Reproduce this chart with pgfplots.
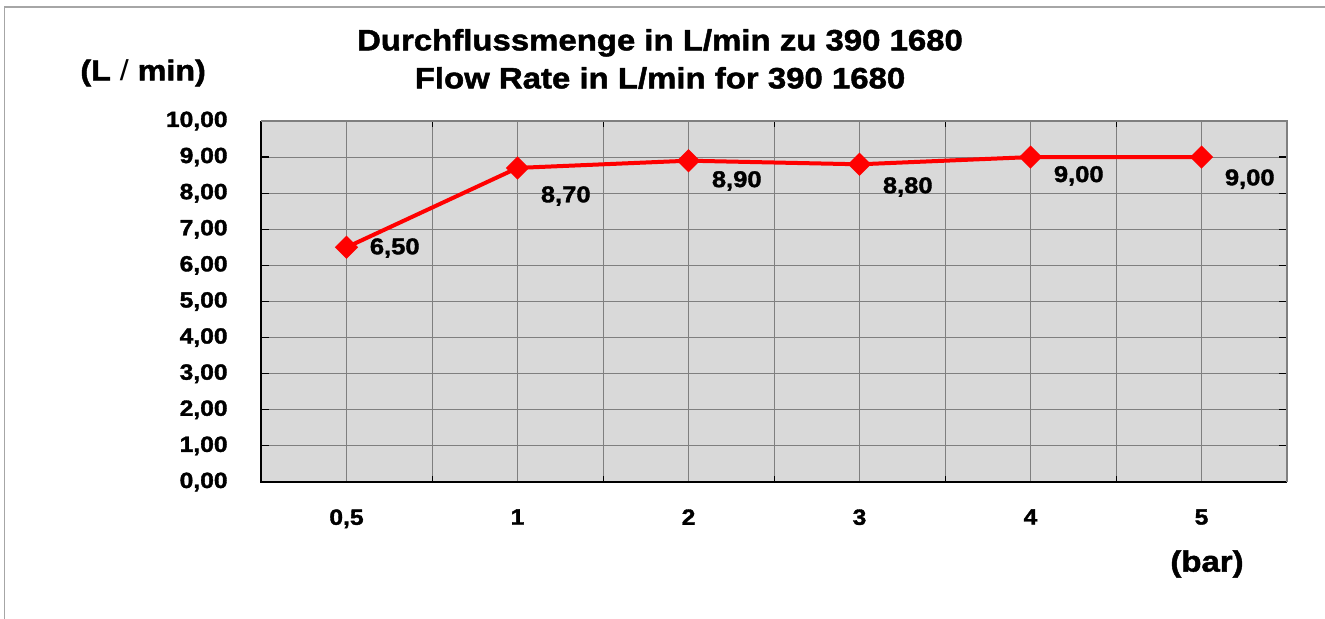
\documentclass[border=0pt]{standalone}
\usepackage{pgfplots}
\pgfplotsset{compat=1.18}
\usepackage{fontspec}
\setmainfont[FakeStretch=1.12, BoldFeatures={FakeBold=1.6}]{Liberation Sans}
\definecolor{bgGray}{HTML}{D9D9D9}
\definecolor{gridGray}{HTML}{7F7F7F}
\definecolor{frameGray}{HTML}{A6A6A6}
\pgfplotstableread{
x y
0 6.50
1 8.70
2 8.90
3 8.80
4 9.00
5 9.00
}\flowdata
\pgfplotstableread{
x y lab
0 6.48 6,50
1 7.92 8,70
2 8.34 8,90
3 8.17 8,80
4 8.48 9,00
5 8.39 9,00
}\labdata
\begin{document}
\begin{tikzpicture}[x=1pt,y=1pt]
\useasboundingbox[fill=white] (0,0) rectangle (662.5,309.5);
\draw[frameGray, line width=0.8pt] (2.2,0) -- (2.2,305.9) -- (662.5,305.9);
\begin{axis}[
  at={(130.5pt,68.5pt)}, anchor=south west,
  scale only axis, width=513pt, height=180.5pt,
  xmin=-0.5, xmax=5.5, ymin=0, ymax=10,
  xtick={0,1,2,3,4,5},
  xticklabels={{0,5},1,2,3,4,5},
  minor xtick={0.5,1.5,2.5,3.5,4.5},
  ytick={0,1,...,10},
  yticklabel={\pgfmathprintnumber[fixed,fixed zerofill,precision=2,use comma]{\tick}},
  /pgf/number format/assume math mode=true,
  grid=both,
  major grid style={gridGray, line width=0.5pt},
  minor grid style={gridGray, line width=0.5pt},
  axis background/.style={fill=bgGray},
  axis line style={draw=none},
  tick align=inside,
  major tick length=4pt, minor tick length=3pt,
  xtick style={draw=none},
  minor x tick style={draw=black, line width=0.5pt},
  ytick style={black, line width=0.6pt},
  tick label style={font=\bfseries\fontsize{11}{13}\selectfont, inner sep=0pt, text=black},
  yticklabel style={anchor=east, xshift=-16.5pt},
  xticklabel style={anchor=north, yshift=-13.5pt},
  clip=false,
]
\addplot[red, line width=2pt, mark=square*, mark size=3.1pt, mark options={rotate=45, fill=red, draw=red}] table[x=x,y=y] {\flowdata};
\addplot[draw=none, mark=none, nodes near coords, point meta=explicit symbolic,
  every node near coord/.style={anchor=west, xshift=11.5pt, inner sep=0pt, font=\bfseries\fontsize{11.4}{13}\selectfont, text=black}]
  table[x=x,y=y,meta=lab] {\labdata};
\draw[black, line width=0.9pt] (rel axis cs:0,1) -- (rel axis cs:0,0) -- (rel axis cs:1,0);
\draw[gridGray, line width=1pt] (rel axis cs:0,1) -- (rel axis cs:1,1) -- (rel axis cs:1,0);
\end{axis}
\node[font=\bfseries\fontsize{14.7}{19}\selectfont, align=center, inner sep=0pt] at (330,280) {Durchflussmenge in L/min zu 390 1680\\Flow Rate in L/min for 390 1680};
\node[font=\bfseries\fontsize{14.4}{15}\selectfont, anchor=west, inner sep=0pt] at (40,273) {(L {\mdseries/} min)};
\node[font=\bfseries\fontsize{14.7}{15}\selectfont, anchor=west, inner sep=0pt] at (585,27.5) {(bar)};
\end{tikzpicture}
\end{document}
